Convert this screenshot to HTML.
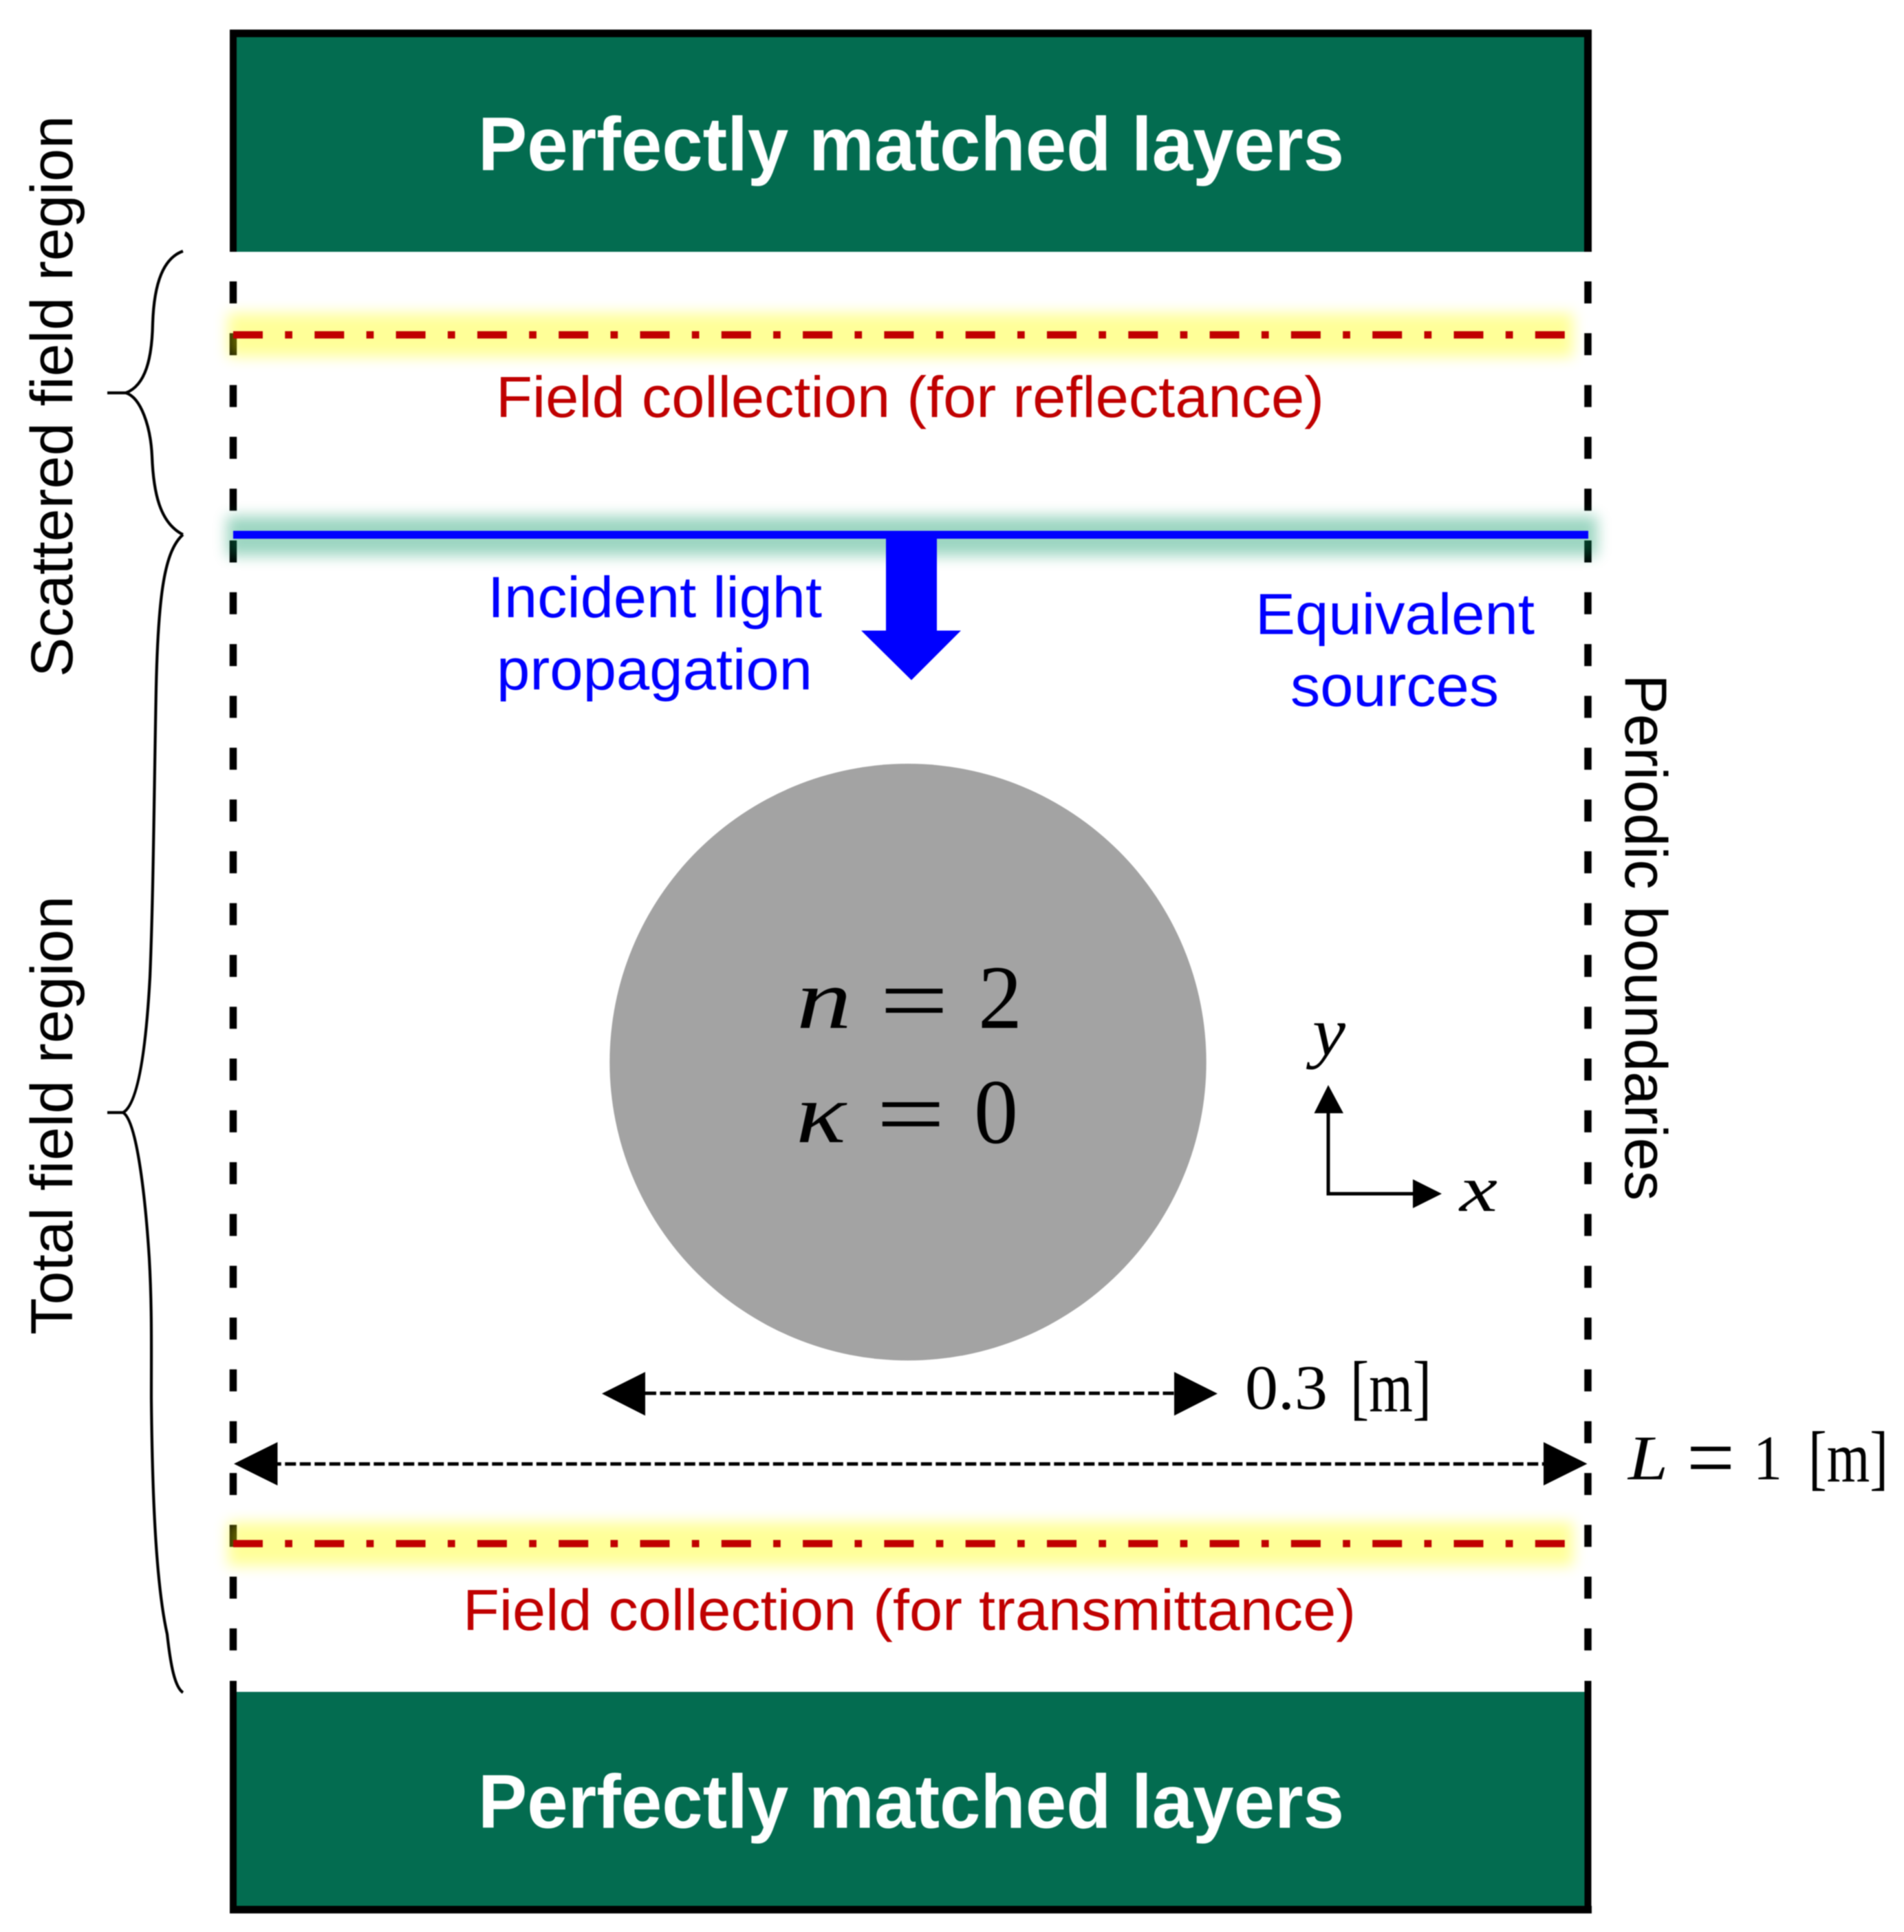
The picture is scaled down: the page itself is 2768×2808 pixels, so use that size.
<!DOCTYPE html>
<html><head><meta charset="utf-8"><style>
html,body{margin:0;padding:0;background:#fff}
svg{display:block;filter:blur(.7px)}
text{font-family:"Liberation Sans",sans-serif}
.s{font-family:"Liberation Serif",serif;fill:#000}
.i{font-family:"Liberation Serif",serif;font-style:italic;fill:#000}
</style></head><body>
<svg width="2768" height="2808" viewBox="0 0 2768 2808" xmlns="http://www.w3.org/2000/svg">
<defs>
<filter id="b" filterUnits="userSpaceOnUse" x="250" y="380" width="2150" height="1960" color-interpolation-filters="sRGB"><feGaussianBlur stdDeviation="10"/></filter>
</defs>
<rect width="2768" height="2808" fill="#fff"/>
<!-- Top PML -->
<rect x="334" y="43" width="1980" height="323" fill="#000"/>
<rect x="344" y="54" width="1959" height="312" fill="#036c50"/>
<!-- Bottom PML -->
<rect x="334" y="2443" width="10" height="338" fill="#000"/>
<rect x="2303.5" y="2443" width="10" height="338" fill="#000"/>
<rect x="334" y="2770" width="1980" height="11" fill="#000"/>
<rect x="344" y="2459" width="1959.5" height="311" fill="#036c50"/>
<!-- Periodic dashes -->
<path d="M339 409V2440M2308.5 409V2440" stroke="#000" stroke-width="10.5" stroke-dasharray="32 43.3" fill="none"/>
<!-- Glows -->
<g filter="url(#b)" opacity=".4">
<rect x="331" y="455" width="1956" height="64" fill="#ffff00"/>
<rect x="331" y="2212" width="1956" height="64" fill="#ffff00"/>
</g>
<g filter="url(#b)" opacity=".4">
<rect x="330" y="750" width="1992" height="58" fill="#0a9866"/>
</g>
<!-- Red lines -->
<path d="M339 486.7H2275M339 2243.5H2275" stroke="#c00000" stroke-width="10.6" stroke-dasharray="43 32.3 10.7 32.3" fill="none"/>
<!-- Blue line & arrow -->
<rect x="339" y="771.5" width="1970" height="11.5" fill="#0000ff"/>
<path d="M1288 780H1362V916.5H1397L1325 988.5L1252 916.5H1288Z" fill="#0000ff"/>
<!-- Circle -->
<circle cx="1320" cy="1543.7" r="433.7" fill="#a3a3a3"/>
<!-- Braces -->
<path d="M266 365C238 375 224 410 222 470C221 520 212 560 183 571L156 571M183 571C205 578 219 620 221 663C223 715 232 760 266 777" fill="none" stroke="#000" stroke-width="4.2"/>
<path d="M266 777C240 800 230 860 227 1000C224 1150 223 1300 218 1420C212 1530 200 1605 179 1617L156 1617M179 1617C200 1630 212 1750 217 1829C221 1900 220 1960 220 2032C221 2130 224 2290 243 2375C248 2420 254 2452 266 2460" fill="none" stroke="#000" stroke-width="4.2"/>
<!-- Dimension arrows -->
<path d="M938 2025H1707" stroke="#000" stroke-width="5" stroke-dasharray="16 5.5" fill="none"/>
<path d="M938 1994V2057.5L875 2025.5ZM1707 1994V2057.5L1770 2025.5Z" fill="#000"/>
<path d="M392.8 2127.7H2244" stroke="#000" stroke-width="5" stroke-dasharray="16 5.5" fill="none"/>
<path d="M403.500 2096V2159L340 2127.500ZM2244 2096V2159L2307.500 2127.500Z" fill="#000"/>
<!-- Axes -->
<path d="M1931 1618V1735H2054" fill="none" stroke="#000" stroke-width="5"/>
<path d="M1910.500 1618H1953L1931 1577ZM2054 1714V1756L2096 1735Z" fill="#000"/>
<!-- Titles -->
<text x="695" y="247.500" font-size="110" font-weight="bold" fill="#fff" textLength="1259" lengthAdjust="spacingAndGlyphs">Perfectly matched layers</text>
<text x="695" y="2656.500" font-size="110" font-weight="bold" fill="#fff" textLength="1259" lengthAdjust="spacingAndGlyphs">Perfectly matched layers</text>
<!-- Red labels -->
<text x="721" y="606" font-size="84" fill="#c00000" textLength="1204" lengthAdjust="spacingAndGlyphs">Field collection (for reflectance)</text>
<text x="673" y="2369" font-size="84" fill="#c00000" textLength="1298" lengthAdjust="spacingAndGlyphs">Field collection (for transmittance)</text>
<!-- Blue labels -->
<text x="709" y="897" font-size="84" fill="#0000ff" textLength="486" lengthAdjust="spacingAndGlyphs">Incident light</text>
<text x="722" y="1002" font-size="84" fill="#0000ff" textLength="459" lengthAdjust="spacingAndGlyphs">propagation</text>
<text x="1825" y="921.500" font-size="84" fill="#0000ff" textLength="406" lengthAdjust="spacingAndGlyphs">Equivalent</text>
<text x="1876" y="1026" font-size="84" fill="#0000ff" textLength="303" lengthAdjust="spacingAndGlyphs">sources</text>
<!-- Rotated labels -->
<text transform="translate(105 984) rotate(-90)" font-size="86" fill="#000" textLength="816" lengthAdjust="spacingAndGlyphs">Scattered field region</text>
<text transform="translate(105 1940) rotate(-90)" font-size="86" fill="#000" textLength="638" lengthAdjust="spacingAndGlyphs">Total field region</text>
<text transform="translate(2363 980) rotate(90)" font-size="86" fill="#000" textLength="765" lengthAdjust="spacingAndGlyphs">Periodic boundaries</text>
<!-- Math -->
<text class="i" x="1158" y="1494" font-size="124" textLength="80" lengthAdjust="spacingAndGlyphs">n</text>
<text class="s" x="1279" y="1501" font-size="140" textLength="100" lengthAdjust="spacingAndGlyphs">=</text>
<text class="s" x="1422" y="1494" font-size="132" textLength="64" lengthAdjust="spacingAndGlyphs">2</text>
<text class="i" x="1157" y="1660" font-size="124" textLength="73" lengthAdjust="spacingAndGlyphs">κ</text>
<text class="s" x="1274" y="1666" font-size="140" textLength="100" lengthAdjust="spacingAndGlyphs">=</text>
<text class="s" x="1416" y="1661" font-size="134" textLength="64" lengthAdjust="spacingAndGlyphs">0</text>
<text class="i" x="1908" y="1533" font-size="100" textLength="48" lengthAdjust="spacingAndGlyphs">y</text>
<text class="i" x="2122" y="1760" font-size="95" textLength="55" lengthAdjust="spacingAndGlyphs">x</text>
<text class="s" x="1810" y="2047.500" font-size="92" textLength="120" lengthAdjust="spacingAndGlyphs">0.3</text>
<text class="s" x="1963" y="2051" font-size="105" textLength="118" lengthAdjust="spacingAndGlyphs">[m]</text>
<text class="i" x="2367" y="2150" font-size="92" textLength="58" lengthAdjust="spacingAndGlyphs">L</text>
<text class="s" x="2452" y="2162" font-size="130" textLength="70" lengthAdjust="spacingAndGlyphs">=</text>
<text class="s" x="2549" y="2150" font-size="92" textLength="42" lengthAdjust="spacingAndGlyphs">1</text>
<text class="s" x="2629" y="2153" font-size="105" textLength="116" lengthAdjust="spacingAndGlyphs">[m]</text>
</svg>
</body></html>
